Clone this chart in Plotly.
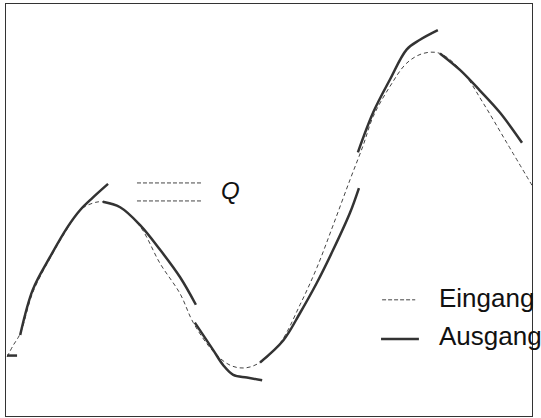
import plotly.graph_objects as go

# Eingang (input signal)
x_in = [0.02, 0.13, 0.27, 0.51, 0.84, 1.16, 1.41, 1.65, 1.83, 2.17, 2.55, 2.93, 3.31, 3.56,
        3.94, 4.26, 4.54, 4.83, 5.21, 5.59, 5.91, 6.22, 6.54, 6.79, 6.98, 7.30, 7.62, 7.93,
        8.25, 8.69, 9.07, 9.52, 10.0]
y_in = [-1.07, -0.99, -0.90, -0.60, -0.35, -0.14, 0.00, 0.05, 0.06, 0.02, -0.12, -0.39, -0.61, -0.82,
        -1.03, -1.13, -1.15, -1.11, -0.97, -0.69, -0.42, -0.11, 0.22, 0.47, 0.68, 0.90, 1.07, 1.14,
        1.14, 1.00, 0.78, 0.49, 0.18]

# Ausgang (output signal), piecewise segments
seg_x = [
    [0.02, 0.21],
    [0.27, 0.51, 0.84, 1.16, 1.41, 1.65, 1.94],
    [1.84, 2.17, 2.55, 2.93, 3.31, 3.61],
    [3.59, 3.94, 4.13, 4.32, 4.58, 4.87],
    [4.83, 5.27, 5.59, 5.91, 6.22, 6.54, 6.71],
    [6.69, 6.98, 7.30, 7.62, 7.87, 8.21],
    [8.25, 8.63, 9.01, 9.39, 9.81],
]
seg_y = [
    [-1.06, -1.06],
    [-0.91, -0.58, -0.34, -0.13, 0.00, 0.09, 0.19],
    [0.06, 0.02, -0.11, -0.29, -0.49, -0.69],
    [-0.82, -1.02, -1.13, -1.20, -1.22, -1.24],
    [-1.11, -0.95, -0.75, -0.53, -0.29, -0.02, 0.16],
    [0.42, 0.71, 0.95, 1.17, 1.24, 1.31],
    [1.14, 1.02, 0.87, 0.71, 0.49],
]

legend_labels = ["Eingang", "Ausgang"]
q_label = "Q"
q_lines_y = [0.197, 0.066]
q_lines_x = [2.49, 3.73]
q_text_pos = [4.26, 0.14]

x_out, y_out = [], []
for sx, sy in zip(seg_x, seg_y):
    x_out += sx + [None]
    y_out += sy + [None]

fig = go.Figure()
fig.add_trace(go.Scatter(x=x_in, y=y_in, mode="lines", line_shape="spline",
                         line=dict(color="#444444", width=1, dash="4px,3px"),
                         showlegend=False))
fig.add_trace(go.Scatter(x=x_out, y=y_out, mode="lines", line_shape="spline",
                         connectgaps=False,
                         line=dict(color="#333333", width=2.5),
                         showlegend=False))

# Q marker lines
for qy in q_lines_y:
    fig.add_shape(type="line", xref="x", yref="y", x0=q_lines_x[0], x1=q_lines_x[1],
                  y0=qy, y1=qy, line=dict(color="#444444", width=1, dash="4px,2px"))
fig.add_annotation(x=q_text_pos[0], y=q_text_pos[1], xref="x", yref="y", text="<i>" + q_label + "</i>",
                   showarrow=False, font=dict(family="Liberation Sans", size=24, color="#111111"),
                   xanchor="center", yanchor="middle")

# manual legend
fig.add_shape(type="line", xref="paper", yref="paper", x0=0.715, x1=0.778, y0=0.282, y1=0.282,
              line=dict(color="#444444", width=1, dash="4px,2px"))
fig.add_shape(type="line", xref="paper", yref="paper", x0=0.713, x1=0.785, y0=0.187, y1=0.187,
              line=dict(color="#333333", width=2.5))
fig.add_annotation(x=0.819, y=0.286, xref="paper", yref="paper", text=legend_labels[0],
                   showarrow=False, xanchor="left", yanchor="middle",
                   font=dict(family="Liberation Sans", size=26, color="#111111"))
fig.add_annotation(x=0.819, y=0.194, xref="paper", yref="paper", text=legend_labels[1],
                   showarrow=False, xanchor="left", yanchor="middle",
                   font=dict(family="Liberation Sans", size=26, color="#111111"))

axis_common = dict(showline=True, mirror=True, linecolor="#333333", linewidth=1,
                   showgrid=False, zeroline=False, showticklabels=False, ticks="")
fig.update_xaxes(range=[0, 10], **axis_common)
fig.update_yaxes(range=[-1.5, 1.5], **axis_common)
fig.update_layout(width=541, height=418, margin=dict(l=6, r=9, t=4, b=2),
                  plot_bgcolor="white", paper_bgcolor="white", showlegend=False)

fig.write_html("out.html", config={"displayModeBar": False, "staticPlot": True},
               post_script="document.body.style.margin='0';document.body.style.overflow='hidden';")
